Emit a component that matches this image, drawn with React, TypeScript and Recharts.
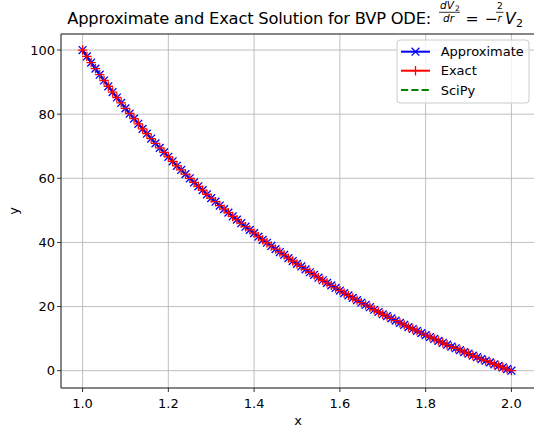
import { LineChart, Line, XAxis, YAxis, CartesianGrid, ReferenceLine } from 'recharts'

// radius r sampled every 0.01 on [1, 2]
const rValues = [
  1.0, 1.01, 1.02, 1.03, 1.04, 1.05, 1.06, 1.07, 1.08, 1.09,
  1.1, 1.11, 1.12, 1.13, 1.14, 1.15, 1.16, 1.17, 1.18, 1.19,
  1.2, 1.21, 1.22, 1.23, 1.24, 1.25, 1.26, 1.27, 1.28, 1.29,
  1.3, 1.31, 1.32, 1.33, 1.34, 1.35, 1.36, 1.37, 1.38, 1.39,
  1.4, 1.41, 1.42, 1.43, 1.44, 1.45, 1.46, 1.47, 1.48, 1.49,
  1.5, 1.51, 1.52, 1.53, 1.54, 1.55, 1.56, 1.57, 1.58, 1.59,
  1.6, 1.61, 1.62, 1.63, 1.64, 1.65, 1.66, 1.67, 1.68, 1.69,
  1.7, 1.71, 1.72, 1.73, 1.74, 1.75, 1.76, 1.77, 1.78, 1.79,
  1.8, 1.81, 1.82, 1.83, 1.84, 1.85, 1.86, 1.87, 1.88, 1.89,
  1.9, 1.91, 1.92, 1.93, 1.94, 1.95, 1.96, 1.97, 1.98, 1.99,
  2.0,
]

// V2; approximate, exact and scipy curves sit on top of each other
const approxV = [
  100.0, 98.0, 96.1, 94.2, 92.3, 90.5, 88.7, 86.9, 85.2, 83.5,
  81.8, 80.2, 78.6, 77.0, 75.4, 73.9, 72.4, 70.9, 69.5, 68.1,
  66.7, 65.3, 63.9, 62.6, 61.3, 60.0, 58.7, 57.5, 56.3, 55.0,
  53.8, 52.7, 51.5, 50.4, 49.3, 48.1, 47.1, 46.0, 44.9, 43.9,
  42.9, 41.8, 40.8, 39.9, 38.9, 37.9, 37.0, 36.1, 35.1, 34.2,
  33.3, 32.5, 31.6, 30.7, 29.9, 29.0, 28.2, 27.4, 26.6, 25.8,
  25.0, 24.2, 23.5, 22.7, 22.0, 21.2, 20.5, 19.8, 19.0, 18.3,
  17.6, 17.0, 16.3, 15.6, 14.9, 14.3, 13.6, 13.0, 12.4, 11.7,
  11.1, 10.5, 9.9, 9.3, 8.7, 8.1, 7.5, 7.0, 6.4, 5.8,
  5.3, 4.7, 4.2, 3.6, 3.1, 2.6, 2.0, 1.5, 1.0, 0.5,
  0.0,
]
const exactV = approxV
const scipyV = approxV

const xTicks = [1.0, 1.2, 1.4, 1.6, 1.8, 2.0]
const yTicks = [0, 20, 40, 60, 80, 100]
const seriesNames = ['Approximate', 'Exact', 'SciPy']

const rows = rValues.map((r, i) => ({ r, approx: approxV[i], exact: exactV[i], scipy: scipyV[i] }))

const FONT = '"DejaVu Sans", sans-serif'
const BLUE = '#0000ff'
const RED = '#ff0000'
const GREEN = '#008000'
const M = 3.9

const xPath = (cx: number, cy: number) => `M${cx - M},${cy - M}L${cx + M},${cy + M}M${cx - M},${cy + M}L${cx + M},${cy - M}`
const plusPath = (cx: number, cy: number) => `M${cx - M * 1.2},${cy}L${cx + M * 1.2},${cy}M${cx},${cy - M * 1.2}L${cx},${cy + M * 1.2}`

const XDot = (p: any) => p.cx == null ? null : <path key={`a${p.index}`} d={xPath(p.cx, p.cy)} stroke={BLUE} strokeWidth={1.3} fill="none" />
const PlusDot = (p: any) => p.cx == null ? null : <path key={`e${p.index}`} d={plusPath(p.cx, p.cy)} stroke={RED} strokeWidth={1.3} fill="none" />

const tick = { fontSize: 13, fill: '#000', fontFamily: FONT }

function Overlay() {
  const lx = 397, ly = 40
  const rowsY = [51.7, 70.7, 90]
  return (
    <svg width={534} height={433} style={{ position: 'absolute', left: 0, top: 0, pointerEvents: 'none' }} fontFamily={FONT}>
      {/* title with the mathtext part laid out by hand */}
      <text x={67.3} y={24} fontSize={16.3} fill="#000" textLength={364} lengthAdjust="spacing">Approximate and Exact Solution for BVP ODE:</text>
      <text x={440} y={9} fontSize={10.5} fontStyle="italic">dV</text>
      <text x={455} y={11} fontSize={7.5}>2</text>
      <line x1={439} x2={460} y1={12.3} y2={12.3} stroke="#000" strokeWidth={0.8} />
      <text x={443} y={21.5} fontSize={10.5} fontStyle="italic">dr</text>
      <text x={465.5} y={24} fontSize={15.6}>=</text>
      <text x={484.5} y={24} fontSize={15.6}>−</text>
      <text x={497} y={9} fontSize={9}>2</text>
      <line x1={496} x2={503.5} y1={12.3} y2={12.3} stroke="#000" strokeWidth={0.8} />
      <text x={497.5} y={21.5} fontSize={10} fontStyle="italic">r</text>
      <text x={505} y={24} fontSize={15.6} fontStyle="italic">V</text>
      <text x={516} y={27} fontSize={11}>2</text>

      <text x={298} y={424.5} fontSize={13} textAnchor="middle">x</text>
      <text x={18} y={211} fontSize={13} textAnchor="middle" transform="rotate(-90 18 211)">y</text>

      <rect x={lx} y={ly} width={132} height={63} rx={3} fill="#fff" fillOpacity={0.8} stroke="#cccccc" strokeWidth={1} />
      <line x1={401} x2={430} y1={rowsY[0]} y2={rowsY[0]} stroke={BLUE} strokeWidth={2} />
      <path d={xPath(415.5, rowsY[0])} stroke={BLUE} strokeWidth={1.3} fill="none" />
      <line x1={401} x2={430} y1={rowsY[1]} y2={rowsY[1]} stroke={RED} strokeWidth={2} />
      <path d={plusPath(415.5, rowsY[1])} stroke={RED} strokeWidth={1.3} fill="none" />
      <line x1={401} x2={430} y1={rowsY[2]} y2={rowsY[2]} stroke={GREEN} strokeWidth={2} strokeDasharray="7.2 3.1" />
      {seriesNames.map((n, i) => (
        <text key={n} x={440.7} y={rowsY[i] + 4.6} fontSize={13} fill="#000">{n}</text>
      ))}
    </svg>
  )
}

export default function App() {
  return (
    <div style={{ position: 'absolute', left: 0, top: 0, width: 534, height: 433, overflow: 'hidden', background: '#fff' }}>
      <LineChart width={536} height={433} data={rows} margin={{ top: 34, right: 1, left: 0, bottom: 0 }}>
        <CartesianGrid stroke="#b0b0b0" strokeWidth={0.8} />
        <XAxis dataKey="r" type="number" domain={[0.9497, 2.055]} allowDataOverflow ticks={xTicks}
          tickFormatter={(v: number) => v.toFixed(1)} tick={tick} tickSize={4} tickMargin={7} height={45}
          axisLine={{ stroke: '#000', strokeWidth: 0.8 }} tickLine={{ stroke: '#000', strokeWidth: 0.8 }} />
        <YAxis type="number" domain={[-5.4, 105]} allowDataOverflow ticks={yTicks} tick={tick} tickSize={4} tickMargin={2} width={61}
          axisLine={{ stroke: '#000', strokeWidth: 0.8 }} tickLine={{ stroke: '#000', strokeWidth: 0.8 }} />
        <ReferenceLine y={105} stroke="#000" strokeWidth={0.8} />
        <ReferenceLine x={2.055} stroke="#000" strokeWidth={0.8} />
        <Line dataKey="approx" type="linear" stroke={BLUE} strokeWidth={2} dot={XDot} activeDot={false} isAnimationActive={false} />
        <Line dataKey="exact" type="linear" stroke={RED} strokeWidth={2} dot={PlusDot} activeDot={false} isAnimationActive={false} />
        <Line dataKey="scipy" type="linear" stroke={GREEN} strokeWidth={2} strokeDasharray="7.2 3.1" dot={false} activeDot={false} isAnimationActive={false} />
      </LineChart>
      <Overlay />
    </div>
  )
}
